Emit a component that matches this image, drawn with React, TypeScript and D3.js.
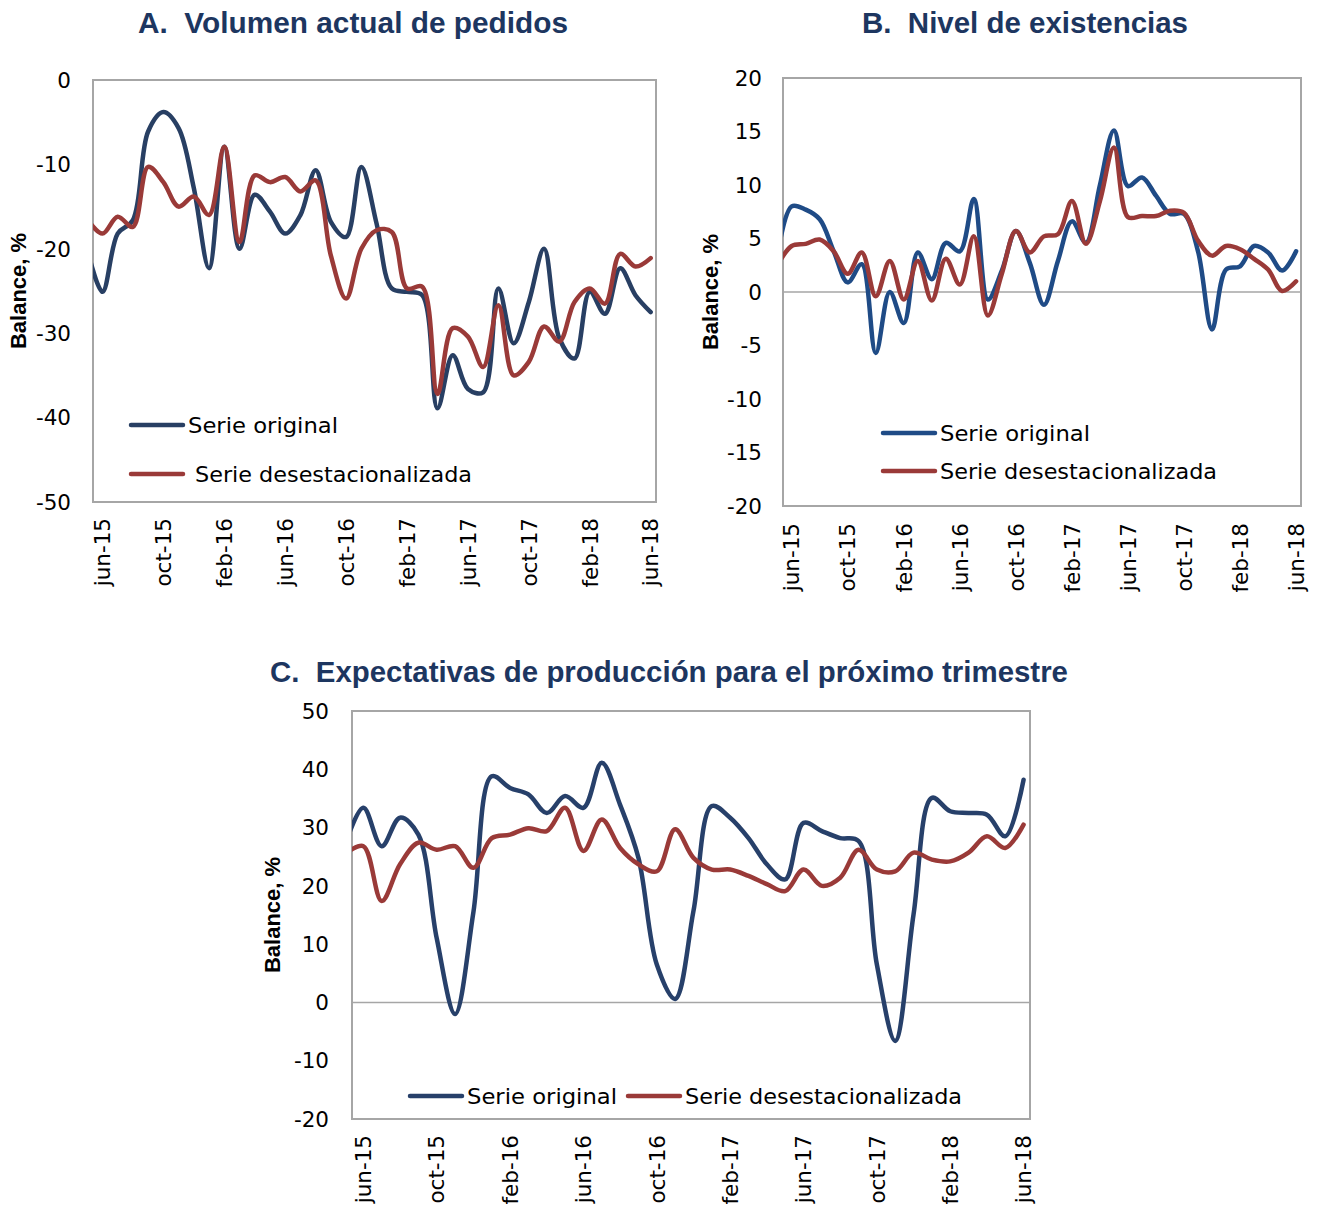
import React from 'react';
import * as d3 from 'd3';

// Months shown (first entry may-15 sits just left of the visible axis and is clipped)
const months = ['may-15','jun-15','jul-15','aug-15','sep-15','oct-15','nov-15','dec-15','jan-16','feb-16','mar-16','apr-16','may-16','jun-16','jul-16','aug-16','sep-16','oct-16','nov-16','dec-16','jan-17','feb-17','mar-17','apr-17','may-17','jun-17','jul-17','aug-17','sep-17','oct-17','nov-17','dec-17','jan-18','feb-18','mar-18','apr-18','may-18','jun-18'];
const tickLabels = ['jun-15','oct-15','feb-16','jun-16','oct-16','feb-17','jun-17','oct-17','feb-18','jun-18'];

const seriesNames = ['Serie original', 'Serie desestacionalizada'];
const seriesTextLen = [150, 277];

// A. Volumen actual de pedidos
const pedidosOriginal = [-20, -25.1, -18.2, -16.6, -6.1, -3.8, -5.7, -12.8, -22.3, -7.9, -20, -13.6, -15.6, -18.2, -16, -10.7, -16.8, -18.6, -10.3, -17, -24.7, -25.1, -25.5, -38.9, -32.6, -36.6, -37, -24.7, -31.2, -26.3, -20, -30.6, -33, -25.1, -27.7, -22.3, -25.5, -27.5];
const pedidosDesest = [-16.5, -18.2, -16.2, -17.4, -10.3, -12.1, -15, -13.8, -16, -7.9, -19.2, -11.3, -12.1, -11.5, -13.2, -11.9, -20.8, -25.9, -20, -17.8, -18, -24.7, -24.5, -37.2, -29.4, -30.4, -34, -26.7, -35, -33.4, -29.2, -31, -26.3, -24.7, -26.5, -20.6, -22.1, -21.1];
const pedidosTicks = [0, -10, -20, -30, -40, -50];

// B. Nivel de existencias
const existOriginal = [3.5, 8.0, 7.7, 6.8, 3.8, 0.9, 2.6, -5.7, 0, -2.9, 3.7, 1.2, 4.6, 3.8, 8.7, -0.7, 2, 5.7, 2.7, -1.2, 2.9, 6.6, 4.6, 10, 15.1, 9.9, 10.7, 9, 7.3, 7.3, 3.8, -3.5, 2.1, 2.4, 4.3, 3.7, 2, 3.8];
const existDesest = [2.5, 4.3, 4.5, 4.9, 3.8, 1.7, 3.7, -0.4, 2.9, -0.7, 2.9, -0.8, 3.1, 0.7, 5.2, -2.2, 1.7, 5.7, 3.7, 5.2, 5.4, 8.5, 4.5, 8.5, 13.5, 7, 7.1, 7.1, 7.6, 7.4, 4.8, 3.4, 4.3, 4, 3.1, 2.1, 0.1, 1];
const existTicks = [20, 15, 10, 5, 0, -5, -10, -15, -20];

// C. Expectativas de producción para el próximo trimestre
const expectOriginal = [27, 33.4, 26.8, 31.7, 28.8, 11, -2, 15.5, 38.8, 36.8, 35.7, 32.5, 35.4, 33.4, 41.1, 33.9, 24.8, 6.5, 0.6, 15.7, 33.7, 31.7, 28.2, 23.7, 21.1, 30.8, 29.4, 28.2, 27.7, 6.5, -6.6, 15.1, 35.1, 32.8, 32.5, 32.2, 28.5, 38.2];
const expectDesest = [25.5, 26.8, 17.4, 23.7, 27.4, 26.2, 26.8, 23.1, 28.2, 28.8, 29.9, 29.4, 33.4, 26, 31.4, 26.5, 23.7, 22.5, 29.7, 24.8, 22.8, 22.8, 21.7, 20.3, 19.1, 22.8, 20, 21.4, 26.2, 22.8, 22.5, 25.7, 24.5, 24.2, 25.7, 28.5, 26.5, 30.5];
const expectTicks = [50, 40, 30, 20, 10, 0, -10, -20];

const TITLE_COLOR = '#1d3660';
const RED = '#9a3a38';
const FRAME = '#a6a6a6';
const TICK_FONT = "'DejaVu Sans', 'Liberation Sans', Arial, sans-serif";

type PanelProps = {
  id: string;
  title: string;
  titleX: number;
  titleY: number;
  titleLen: number;
  left: number;
  right: number;
  top: number;
  bottom: number;
  yDomain: [number, number];
  ticks: number[];
  tickRight: number;
  yTitleX: number;
  original: number[];
  desest: number[];
  blue: string;
  zeroLine: boolean;
  legend: { x1: number; x2: number; y: number; tx: number }[];
  xLabelTop: number;
};

function Panel(p: PanelProps) {
  const x = d3.scaleLinear().domain([0.38, 37.35]).range([p.left, p.right]);
  const y = d3.scaleLinear().domain(p.yDomain).range([p.bottom, p.top]);
  const line = d3
    .line<number>()
    .x((_, i) => x(i))
    .y((d) => y(d))
    .curve(d3.curveCatmullRom.alpha(0.5));
  const clipId = `clip-${p.id}`;
  const midY = (p.top + p.bottom) / 2;
  const colors = [p.blue, RED];
  return (
    <g>
      <text
        x={p.titleX}
        y={p.titleY}
        fontFamily="'Liberation Sans Narrow', 'Arial Narrow', 'Liberation Sans', Arial, sans-serif"
        fontWeight="bold"
        fontSize={29}
        fill={TITLE_COLOR}
        textLength={p.titleLen}
        lengthAdjust="spacingAndGlyphs"
        style={{ whiteSpace: 'pre' }}
      >
        {p.title}
      </text>
      <defs>
        <clipPath id={clipId}>
          <rect x={p.left} y={p.top} width={p.right - p.left} height={p.bottom - p.top} />
        </clipPath>
      </defs>
      <rect x={p.left} y={p.top} width={p.right - p.left} height={p.bottom - p.top} fill="#fff" stroke={FRAME} strokeWidth={2} />
      {p.zeroLine && (
        <line x1={p.left} x2={p.right} y1={y(0)} y2={y(0)} stroke={FRAME} strokeWidth={1.6} />
      )}
      {p.ticks.map((t) => (
        <text key={t} x={p.tickRight} y={y(t)} dy="0.36em" textAnchor="end" fontFamily={TICK_FONT} fontSize={21.5} fill="#000">
          {t}
        </text>
      ))}
      <text
        transform={`translate(${p.yTitleX},${midY}) rotate(-90)`}
        dy="0.36em"
        textAnchor="middle"
        fontFamily="'Liberation Sans', Arial, sans-serif"
        fontWeight="bold"
        fontSize={22}
        fill="#000"
      >
        Balance, %
      </text>
      {tickLabels.map((lab) => {
        const idx = months.indexOf(lab);
        return (
          <text
            key={lab}
            transform={`translate(${x(idx)},${p.xLabelTop}) rotate(-90)`}
            dy="0.36em"
            textAnchor="end"
            fontFamily={TICK_FONT}
            fontSize={21.5}
            fill="#000"
          >
            {lab}
          </text>
        );
      })}
      <g clipPath={`url(#${clipId})`}>
        {[p.original, p.desest].map((s, k) => (
          <path key={k} d={line(s) || ''} fill="none" stroke={colors[k]} strokeWidth={4.5} strokeLinejoin="round" strokeLinecap="round" />
        ))}
      </g>
      {p.legend.map((l, k) => (
        <g key={k}>
          <line x1={l.x1} x2={l.x2} y1={l.y} y2={l.y} stroke={colors[k]} strokeWidth={4.5} strokeLinecap="round" />
          <text
            x={l.tx}
            y={l.y}
            dy="0.36em"
            fontFamily={TICK_FONT}
            fontSize={22}
            fill="#000"
            textLength={seriesTextLen[k]}
            lengthAdjust="spacingAndGlyphs"
          >
            {seriesNames[k]}
          </text>
        </g>
      ))}
    </g>
  );
}

export default function App() {
  return (
    <svg width={1317} height={1207} style={{ position: 'absolute', left: 0, top: 0, background: '#fff' }}>
      <rect width={1317} height={1207} fill="#fff" />
      <Panel
        id="a"
        title="A.  Volumen actual de pedidos"
        titleX={138}
        titleY={33}
        titleLen={430}
        left={93}
        right={656}
        top={80}
        bottom={502}
        yDomain={[-50, 0]}
        ticks={pedidosTicks}
        tickRight={71}
        yTitleX={18}
        original={pedidosOriginal}
        desest={pedidosDesest}
        blue="#283f63"
        zeroLine={false}
        legend={[
          { x1: 131, x2: 183, y: 425, tx: 188 },
          { x1: 131, x2: 183, y: 474, tx: 195 },
        ]}
        xLabelTop={518}
      />
      <Panel
        id="b"
        title="B.  Nivel de existencias"
        titleX={862}
        titleY={33}
        titleLen={326}
        left={783}
        right={1301}
        top={78}
        bottom={506}
        yDomain={[-20, 20]}
        ticks={existTicks}
        tickRight={762}
        yTitleX={710}
        original={existOriginal}
        desest={existDesest}
        blue="#1f4b86"
        zeroLine={true}
        legend={[
          { x1: 883, x2: 935, y: 433, tx: 940 },
          { x1: 883, x2: 935, y: 471, tx: 940 },
        ]}
        xLabelTop={523}
      />
      <Panel
        id="c"
        title="C.  Expectativas de producción para el próximo trimestre"
        titleX={270}
        titleY={682}
        titleLen={798}
        left={352}
        right={1030}
        top={711}
        bottom={1119}
        yDomain={[-20, 50]}
        ticks={expectTicks}
        tickRight={329}
        yTitleX={272}
        original={expectOriginal}
        desest={expectDesest}
        blue="#27406a"
        zeroLine={true}
        legend={[
          { x1: 410, x2: 462, y: 1096, tx: 467 },
          { x1: 628, x2: 680, y: 1096, tx: 685 },
        ]}
        xLabelTop={1135}
      />
    </svg>
  );
}
